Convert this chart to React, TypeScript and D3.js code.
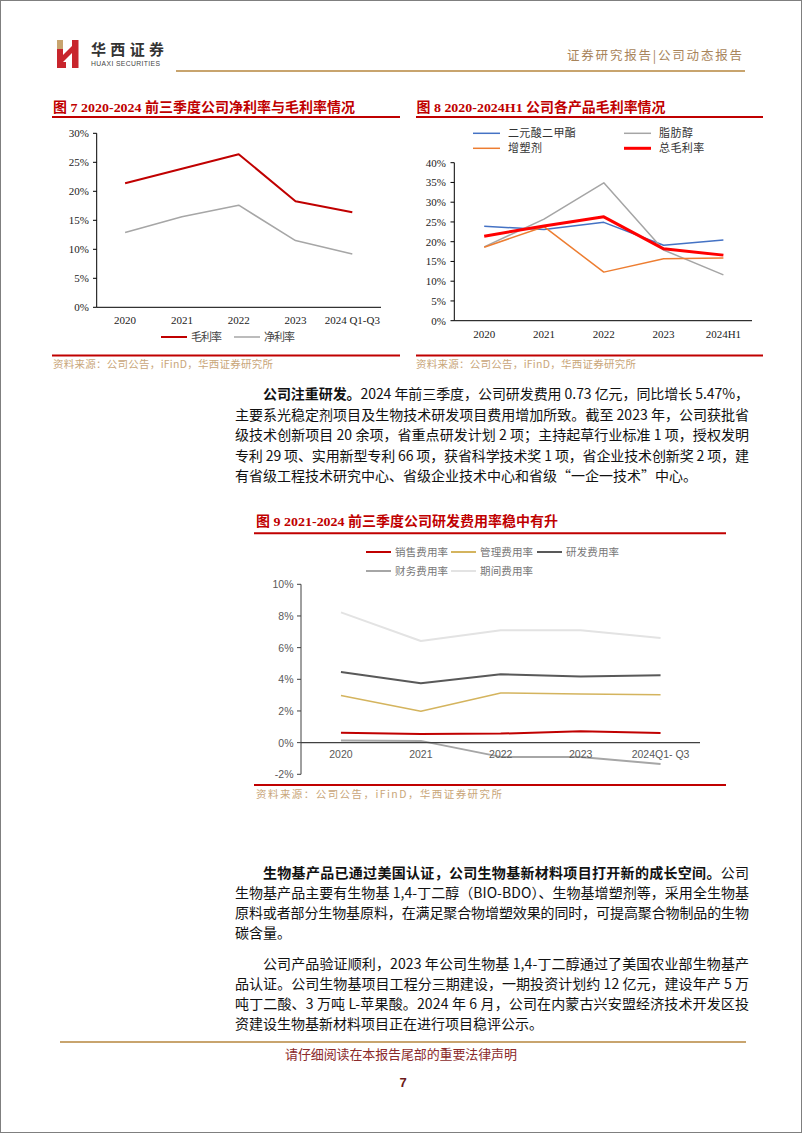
import React from 'react';
import * as d3 from 'd3';

// ---------- DATA ----------
const years7 = ['2020', '2021', '2022', '2023', '2024 Q1-Q3'];
const grossMargin7 = [21.4, 23.9, 26.4, 18.3, 16.4];
const netMargin7 = [12.9, 15.6, 17.6, 11.5, 9.2];
const ticks7 = [0, 5, 10, 15, 20, 25, 30];

const years8 = ['2020', '2021', '2022', '2023', '2024H1'];
const dimethyl8 = [23.9, 23.1, 24.9, 19.1, 20.4];
const fattyAlcohol8 = [18.7, 25.7, 34.9, 17.9, 11.6];
const plasticizer8 = [18.6, 23.8, 12.3, 15.7, 15.9];
const totalGross8 = [21.4, 24.0, 26.3, 18.2, 16.6];
const ticks8 = [0, 5, 10, 15, 20, 25, 30, 35, 40];

const years9 = ['2020', '2021', '2022', '2023', '2024Q1- Q3'];
const selling9 = [0.63, 0.55, 0.57, 0.72, 0.61];
const admin9 = [2.97, 1.98, 3.14, 3.07, 3.03];
const rd9 = [4.46, 3.75, 4.32, 4.17, 4.25];
const finance9 = [0.13, 0.11, -0.9, -0.9, -1.35];
const period9 = [8.23, 6.42, 7.1, 7.1, 6.61];
const ticks9 = [-2, 0, 2, 4, 6, 8, 10];

const para1 = [
  { bold: '公司注重研发。', text: '2024 年前三季度，公司研发费用 0.73 亿元，同比增长 5.47%，' },
  { text: '主要系光稳定剂项目及生物技术研发项目费用增加所致。截至 2023 年，公司获批省' },
  { text: '级技术创新项目 20 余项，省重点研发计划 2 项；主持起草行业标准 1 项，授权发明' },
  { text: '专利 29 项、实用新型专利 66 项，获省科学技术奖 1 项，省企业技术创新奖 2 项，建' },
  { text: '有省级工程技术研究中心、省级企业技术中心和省级“一企一技术”中心。', last: true },
];
const para2 = [
  { bold: '生物基产品已通过美国认证，公司生物基新材料项目打开新的成长空间。', text: '公司' },
  { text: '生物基产品主要有生物基 1,4-丁二醇（BIO-BDO）、生物基增塑剂等，采用全生物基' },
  { text: '原料或者部分生物基原料，在满足聚合物增塑效果的同时，可提高聚合物制品的生物' },
  { text: '碳含量。', last: true },
];
const para3 = [
  { text: '公司产品验证顺利，2023 年公司生物基 1,4-丁二醇通过了美国农业部生物基产' },
  { text: '品认证。公司生物基项目工程分三期建设，一期投资计划约 12 亿元，建设年产 5 万' },
  { text: '吨丁二酸、3 万吨 L-苹果酸。2024 年 6 月，公司在内蒙古兴安盟经济技术开发区投' },
  { text: '资建设生物基新材料项目正在进行项目稳评公示。', last: true },
];

const SOURCE = '资料来源：公司公告，iFinD，华西证券研究所';

// ---------- STYLE ----------
const SERIF = "'Liberation Serif','Times New Roman','Noto Sans CJK SC',serif";
const CJK = "'Noto Sans CJK SC','Liberation Serif',sans-serif";
const SANS = "'Liberation Sans',Arial,'Noto Sans CJK SC',sans-serif";
const TITLE_RED = '#c00000';
const TAN = '#c8a46e';
const SRC_TAN = '#c9a679';

type Series = { name: string; values: number[]; color: string; width: number };

function Lines({ x, y, cats, series }: { x: d3.ScaleBand<string>; y: d3.ScaleLinear<number, number>; cats: string[]; series: Series[] }) {
  const gen = d3
    .line<number>()
    .x((_, i) => (x(cats[i]) as number) + x.bandwidth() / 2)
    .y((d) => y(d));
  return (
    <g>
      {series.map((s) => (
        <path key={s.name} d={gen(s.values) as string} fill="none" stroke={s.color} strokeWidth={s.width} strokeLinejoin="round" />
      ))}
    </g>
  );
}

function Paragraph({ lines, top, step }: { lines: any[]; top: number; step: number }) {
  const left = 235;
  const right = 749;
  const indent = 263;
  return (
    <g fontFamily={CJK} fontSize={14} fill="#111">
      {lines.map((l, i) => {
        const x0 = i === 0 ? indent : left;
        const props: any = l.last ? {} : { textLength: right - x0, lengthAdjust: 'spacing' };
        return (
          <text key={i} x={x0} y={top + i * step + 5} {...props}>
            {l.bold ? <tspan fontWeight="bold">{l.bold}</tspan> : null}
            <tspan>{l.text}</tspan>
          </text>
        );
      })}
    </g>
  );
}

function Chart7() {
  const x = d3.scaleBand<string>().domain(years7).range([96.7, 380.7]);
  const y = d3.scaleLinear().domain([0, 30]).range([307.3, 133.3]);
  const series: Series[] = [
    { name: '净利率', values: netMargin7, color: '#a6a6a6', width: 1.5 },
    { name: '毛利率', values: grossMargin7, color: '#c00000', width: 2 },
  ];
  return (
    <g>
      <text x={53} y={112} fill={TITLE_RED} fontFamily={SERIF} fontSize={13.5} fontWeight="bold" textLength={302} lengthAdjust="spacingAndGlyphs">
        图 7 2020-2024 前三季度公司净利率与毛利率情况
      </text>
      <line x1={52} x2={400} y1={117} y2={117} stroke={TITLE_RED} strokeWidth={2} />
      {ticks7.map((t) => (
        <g key={t}>
          <line x1={93} x2={96.7} y1={y(t)} y2={y(t)} stroke="#000" />
          <text x={89} y={y(t) + 4} textAnchor="end" fontFamily={SERIF} fontSize={11} fill="#222">
            {t}%
          </text>
        </g>
      ))}
      <line x1={96.7} x2={96.7} y1={y(30)} y2={y(0)} stroke="#000" />
      <line x1={96.7} x2={381} y1={y(0)} y2={y(0)} stroke="#000" />
      {years7.map((c) => (
        <text key={c} x={(x(c) as number) + x.bandwidth() / 2} y={324} textAnchor="middle" fontFamily={SERIF} fontSize={11} fill="#222">
          {c}
        </text>
      ))}
      <Lines x={x} y={y} cats={years7} series={series} />
      <line x1={161} x2={187} y1={337} y2={337} stroke="#c00000" strokeWidth={2} />
      <text x={191} y={341} fontFamily={CJK} fontSize={11} fill="#444" textLength={31}>毛利率</text>
      <line x1={234} x2={260} y1={337} y2={337} stroke="#a6a6a6" strokeWidth={1.5} />
      <text x={264} y={341} fontFamily={CJK} fontSize={11} fill="#444" textLength={31}>净利率</text>
      <line x1={52} x2={400} y1={355.5} y2={355.5} stroke={TITLE_RED} strokeWidth={2} />
      <text x={53} y={368} fontFamily={CJK} fontSize={10.5} fill={SRC_TAN} textLength={220}>{SOURCE}</text>
    </g>
  );
}

function Chart8() {
  const x = d3.scaleBand<string>().domain(years8).range([454.3, 753.3]);
  const y = d3.scaleLinear().domain([0, 40]).range([320.7, 162.7]);
  const series: Series[] = [
    { name: '二元酸二甲酯', values: dimethyl8, color: '#4472c4', width: 1.5 },
    { name: '脂肪醇', values: fattyAlcohol8, color: '#a5a5a5', width: 1.5 },
    { name: '增塑剂', values: plasticizer8, color: '#ed7d31', width: 1.5 },
    { name: '总毛利率', values: totalGross8, color: '#ff0000', width: 3 },
  ];
  const legend = [
    { s: series[0], lx: 473, ly: 133.3 },
    { s: series[1], lx: 624, ly: 133.3 },
    { s: series[2], lx: 473, ly: 148.3 },
    { s: series[3], lx: 624, ly: 148.3 },
  ];
  return (
    <g>
      <text x={416.5} y={112} fill={TITLE_RED} fontFamily={SERIF} fontSize={13.5} fontWeight="bold" textLength={249} lengthAdjust="spacingAndGlyphs">
        图 8 2020-2024H1 公司各产品毛利率情况
      </text>
      <line x1={416} x2={763} y1={117} y2={117} stroke={TITLE_RED} strokeWidth={2} />
      {legend.map(({ s, lx, ly }) => (
        <g key={s.name}>
          <line x1={lx} x2={lx + 27} y1={ly} y2={ly} stroke={s.color} strokeWidth={s.width} />
          <text x={lx + 35} y={ly + 4} fontFamily={CJK} fontSize={11} fill="#333" textLength={s.name.length * 11.3}>
            {s.name}
          </text>
        </g>
      ))}
      {ticks8.map((t) => (
        <g key={t}>
          <line x1={450.5} x2={454.3} y1={y(t)} y2={y(t)} stroke="#000" />
          <text x={446} y={y(t) + 4} textAnchor="end" fontFamily={SERIF} fontSize={11} fill="#222">
            {t}%
          </text>
        </g>
      ))}
      <line x1={454.3} x2={454.3} y1={y(40)} y2={y(0)} stroke="#000" />
      <line x1={454.3} x2={752} y1={y(0)} y2={y(0)} stroke="#000" />
      {years8.map((c) => (
        <text key={c} x={(x(c) as number) + x.bandwidth() / 2} y={338} textAnchor="middle" fontFamily={SERIF} fontSize={11} fill="#222">
          {c}
        </text>
      ))}
      <Lines x={x} y={y} cats={years8} series={series} />
      <line x1={416} x2={763} y1={355.5} y2={355.5} stroke={TITLE_RED} strokeWidth={2} />
      <text x={416} y={368} fontFamily={CJK} fontSize={10.5} fill={SRC_TAN} textLength={220}>{SOURCE}</text>
    </g>
  );
}

function Chart9() {
  const x = d3.scaleBand<string>().domain(years9).range([301, 700.5]);
  const y = d3.scaleLinear().domain([-2, 10]).range([774.3, 584.3]);
  const series: Series[] = [
    { name: '期间费用率', values: period9, color: '#e3e3e3', width: 2 },
    { name: '财务费用率', values: finance9, color: '#a6a6a6', width: 2 },
    { name: '研发费用率', values: rd9, color: '#595959', width: 2 },
    { name: '管理费用率', values: admin9, color: '#d4b45e', width: 1.5 },
    { name: '销售费用率', values: selling9, color: '#c00000', width: 2 },
  ];
  const legend = [
    { s: series[4], lx: 366, ly: 552 },
    { s: series[3], lx: 451, ly: 552 },
    { s: series[2], lx: 537, ly: 552 },
    { s: series[1], lx: 366, ly: 571 },
    { s: series[0], lx: 451, ly: 571 },
  ];
  return (
    <g>
      <text x={256} y={526} fill={TITLE_RED} fontFamily={SERIF} fontSize={13.5} fontWeight="bold" textLength={302} lengthAdjust="spacingAndGlyphs">
        图 9 2021-2024 前三季度公司研发费用率稳中有升
      </text>
      <line x1={254} x2={726} y1={533.3} y2={533.3} stroke={TITLE_RED} strokeWidth={2} />
      {legend.map(({ s, lx, ly }) => (
        <g key={s.name}>
          <line x1={lx} x2={lx + 25} y1={ly} y2={ly} stroke={s.color} strokeWidth={2} />
          <text x={lx + 29} y={ly + 4} fontFamily={CJK} fontSize={10.5} fill="#777" textLength={53}>
            {s.name}
          </text>
        </g>
      ))}
      {ticks9.map((t) => (
        <g key={t}>
          <line x1={297} x2={301} y1={y(t)} y2={y(t)} stroke="#404040" />
          <text x={293.5} y={y(t) + 4} textAnchor="end" fontFamily={SANS} fontSize={10.5} fill="#595959">
            {t}%
          </text>
        </g>
      ))}
      <line x1={301} x2={301} y1={y(10)} y2={y(-2)} stroke="#404040" />
      <Lines x={x} y={y} cats={years9} series={series} />
      <line x1={301} x2={700} y1={y(0)} y2={y(0)} stroke="#404040" strokeWidth={1.3} />
      {years9.map((c) => (
        <text key={c} x={(x(c) as number) + x.bandwidth() / 2} y={758} textAnchor="middle" fontFamily={SANS} fontSize={10.5} fill="#595959">
          {c}
        </text>
      ))}
      <line x1={254} x2={726} y1={785} y2={785} stroke={TITLE_RED} strokeWidth={2} />
      <text x={256} y={798} fontFamily={CJK} fontSize={10.5} fill={SRC_TAN} textLength={246}>{SOURCE}</text>
    </g>
  );
}

function Header() {
  return (
    <g>
      {/* logo mark */}
      <rect x={57} y={40} width={6} height={9} fill="#c8a46e" />
      <rect x={57} y={49} width={6} height={19} fill="#c8252c" />
      <polygon points="63,55 78,40 78,47 63,62" fill="#c8252c" />
      <rect x={72} y={40} width={6.5} height={28} fill="#c8252c" />
      <rect x={63} y={62} width={3} height={6} fill="#c8252c" />
      <text x={91} y={55} fontFamily={CJK} fontWeight="bold" fontSize={15} fill="#333" textLength={73}>华西证券</text>
      <text x={91} y={66} fontFamily={SANS} fontSize={6.8} fill="#444" textLength={69}>HUAXI SECURITIES</text>
      <text x={567} y={60} fontFamily={CJK} fontSize={12.5} fill="#a8845a" textLength={175}>证券研究报告|公司动态报告</text>
      <line x1={176} x2={745} y1={71} y2={71} stroke={TAN} strokeWidth={2} />
    </g>
  );
}

function Footer() {
  return (
    <g>
      <line x1={60} x2={746} y1={1042} y2={1042} stroke={TAN} strokeWidth={2} />
      <text x={401} y={1059} textAnchor="middle" fontFamily={CJK} fontSize={13} fill="#8b2a2a" textLength={232}>
        请仔细阅读在本报告尾部的重要法律声明
      </text>
      <text x={403} y={1087} textAnchor="middle" fontFamily={SANS} fontWeight="bold" fontSize={13} fill="#6b1a1a">7</text>
    </g>
  );
}

export default function App() {
  return (
    <svg width={802} height={1133} style={{ position: 'absolute', left: 0, top: 0, background: '#fff' }}>
      <rect x={0} y={0} width={802} height={1133} fill="#fff" />
      <rect x={0.5} y={0.5} width={801} height={1132} fill="none" stroke="#7f7f7f" />
      <Header />
      <Chart7 />
      <Chart8 />
      <Paragraph lines={para1} top={394} step={20.5} />
      <Chart9 />
      <Paragraph lines={para2} top={873} step={20} />
      <Paragraph lines={para3} top={964} step={20} />
      <Footer />
    </svg>
  );
}
